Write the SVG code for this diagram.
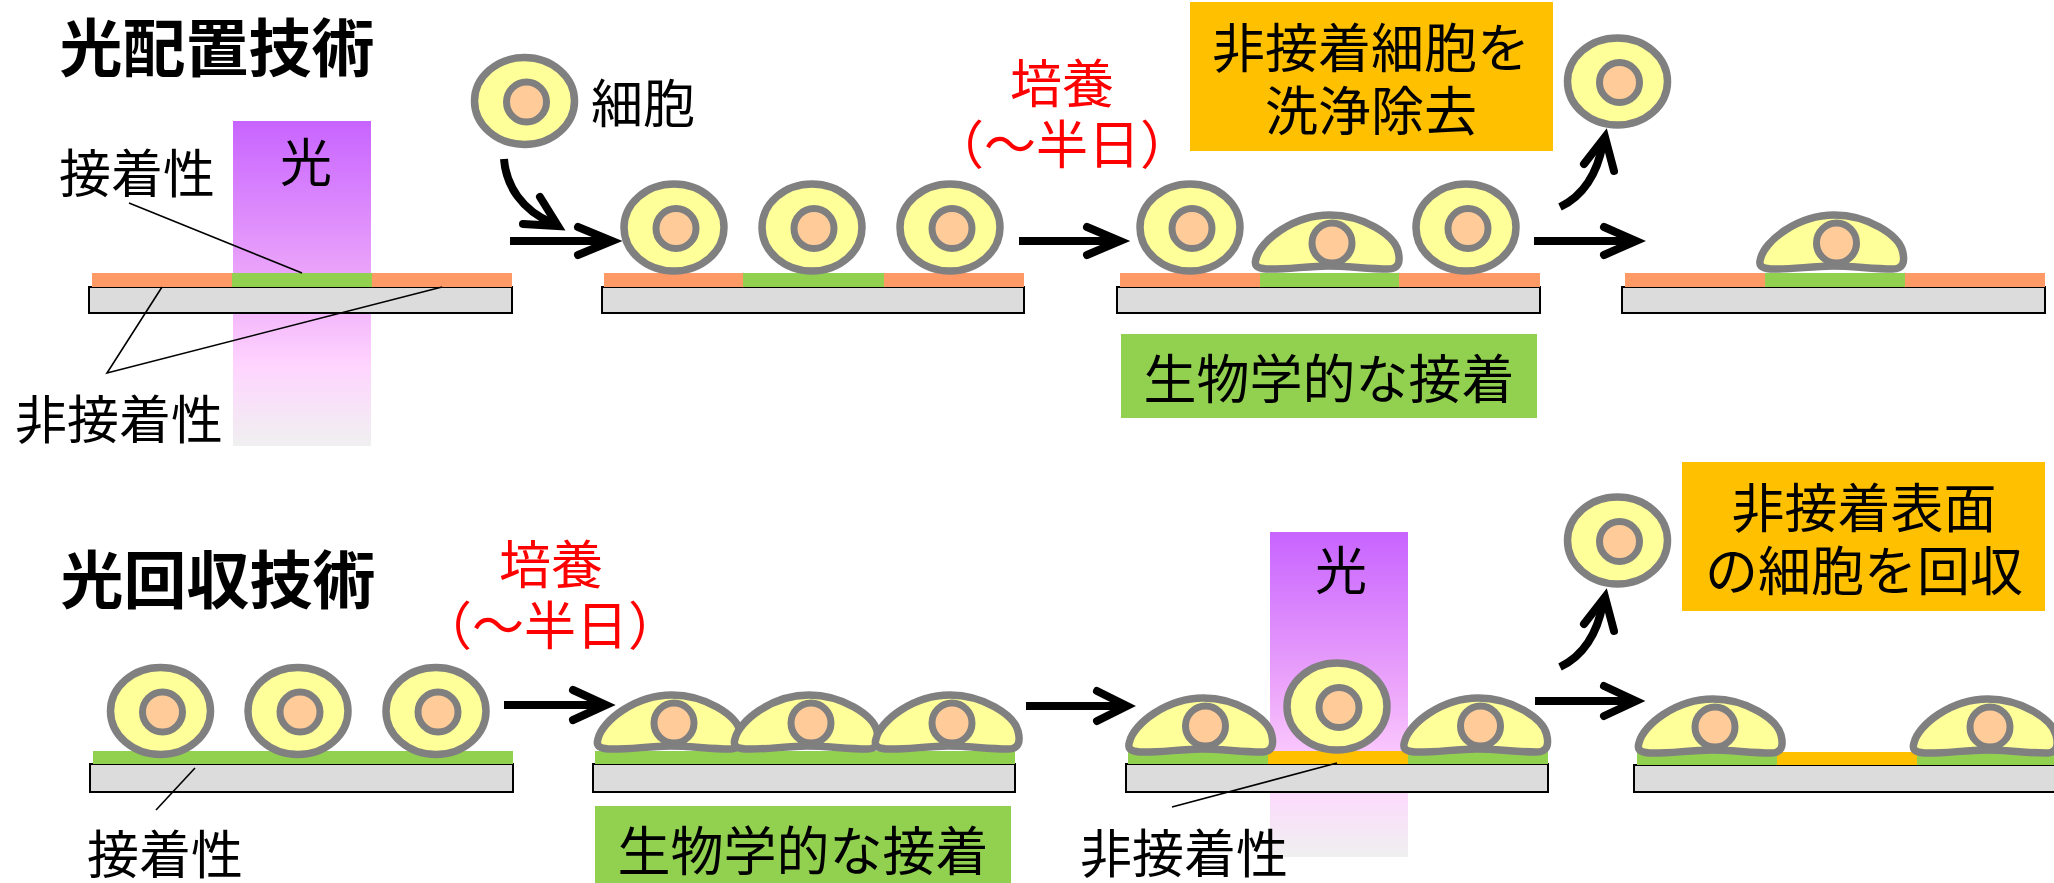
<svg xmlns="http://www.w3.org/2000/svg" xmlns:xlink="http://www.w3.org/1999/xlink" width="2054" height="883" viewBox="0 0 2054 883">
  <style>
    text { font-family: "Noto Sans CJK JP", "Noto Sans", sans-serif; text-anchor: middle; fill: #000; }
    .title { font-size: 63px; font-weight: bold; }
    .lbl { font-size: 52px; }
    .box { font-size: 53px; }
    .red { fill: #FF0000; font-size: 52px; }
    .slide { fill: #DCDCDC; stroke: #000; stroke-width: 2; }
    .rep { fill: #FF9966; }
    .adh { fill: #92D050; }
    .off { fill: #FFC000; }
    .body { fill: #FFFF99; stroke: #808080; stroke-width: 7.5; }
    .nuc { fill: #FFCC99; stroke: #7F7F7F; stroke-width: 7; }
    .shaft { fill: none; stroke: #000; stroke-width: 8; }
    .head { fill: none; stroke: #000; stroke-width: 8; stroke-linecap: round; stroke-linejoin: miter; stroke-miterlimit: 10; }
    .lead { fill: none; stroke: #000; stroke-width: 1.6; }
  </style>
  <defs>
    <linearGradient id="beam" x1="0" y1="0" x2="0" y2="1">
      <stop offset="0" stop-color="#C864FF"/>
      <stop offset="0.5" stop-color="#EDA8FA"/>
      <stop offset="0.75" stop-color="#FFD4FF"/>
      <stop offset="1" stop-color="#F0F0F0"/>
    </linearGradient>
    <!-- floating (round) cell, centred on its body -->
    <g id="roundCell">
      <ellipse class="body" cx="0" cy="0" rx="50" ry="43.5"/>
      <circle class="nuc" cx="2" cy="1" r="20"/>
    </g>
    <!-- spread (attached) cell, origin at bottom centre -->
    <g id="flatCell">
      <path class="body" d="M -72,-14 C -68,-32 -35,-58 2,-58 C 35,-58 66,-38 70,-22 C 73,-10 70,-4 60,-4 C 40,-4 20,-7 0,-7 C -20,-7 -45,-3 -62,-4 C -72,-5 -74,-8 -72,-14 Z"/>
      <circle class="nuc" cx="4" cy="-30" r="20"/>
    </g>
  </defs>

  <!-- ===== photo-patterning row ===== -->
  <g id="title-patterning"><text class="title" x="217" y="71">光配置技術</text></g>

  <g id="light-top">
    <rect x="233" y="121" width="138" height="325" fill="url(#beam)"/>
    <text class="lbl" x="306" y="182" font-size="50">光</text>
  </g>

  <g id="substrate-1">
    <rect class="slide" x="89" y="287" width="423" height="26"/>
    <rect class="rep" x="92" y="273" width="140" height="14"/>
    <rect class="adh" x="232" y="273" width="140" height="14"/>
    <rect class="rep" x="372" y="273" width="140" height="14"/>
  </g>
  <g id="label-adhesive-top"><text class="lbl" x="137" y="193">接着性</text></g>
  <g id="label-nonadhesive-top"><text class="lbl" x="119" y="439">非接着性</text></g>

  <g id="cell-icon">
    <use href="#roundCell" x="524.5" y="101"/>
    <text class="lbl" x="643" y="123">細胞</text>
  </g>

  <g id="substrate-2">
    <rect class="slide" x="602" y="287" width="422" height="26"/>
    <rect class="rep" x="604" y="273" width="139" height="14"/>
    <rect class="adh" x="743" y="273" width="141" height="14"/>
    <rect class="rep" x="884" y="273" width="140" height="14"/>
    <use href="#roundCell" x="674" y="227.5"/>
    <use href="#roundCell" x="812" y="227.5"/>
    <use href="#roundCell" x="950" y="227.5"/>
  </g>

  <g id="culture-top">
    <text class="red" x="1062" y="103">培養</text>
    <text class="red" x="1062" y="164">（～半日）</text>
  </g>

  <g id="substrate-3">
    <rect class="slide" x="1117" y="287" width="423" height="26"/>
    <rect class="rep" x="1120" y="273" width="140" height="14"/>
    <rect class="adh" x="1260" y="273" width="139" height="14"/>
    <rect class="rep" x="1399" y="273" width="141" height="14"/>
    <use href="#roundCell" x="1190" y="227.5"/>
    <use href="#flatCell" x="1328" y="273"/>
    <use href="#roundCell" x="1466" y="227.5"/>
  </g>

  <g id="box-wash">
    <rect class="off" x="1190" y="2" width="363" height="149"/>
    <text class="box" x="1371" y="68">非接着細胞を</text>
    <text class="box" x="1371" y="131">洗浄除去</text>
  </g>

  <g id="box-bio-top">
    <rect class="adh" x="1121" y="334" width="416" height="84"/>
    <text class="box" x="1329" y="399">生物学的な接着</text>
  </g>

  <g id="washed-cell-top"><use href="#roundCell" x="1617.5" y="81.5"/></g>

  <g id="substrate-4">
    <rect class="slide" x="1622" y="287" width="423" height="26"/>
    <rect class="rep" x="1625" y="273" width="140" height="14"/>
    <rect class="adh" x="1765" y="273" width="140" height="14"/>
    <rect class="rep" x="1905" y="273" width="140" height="14"/>
    <use href="#flatCell" x="1832.5" y="273"/>
  </g>

  <!-- ===== photo-recovery row ===== -->
  <g id="title-recovery"><text class="title" x="218" y="603">光回収技術</text></g>

  <g id="substrate-b1">
    <rect class="slide" x="90" y="764" width="423" height="28"/>
    <rect class="adh" x="93" y="751" width="420" height="13"/>
    <use href="#roundCell" x="160.5" y="711"/>
    <use href="#roundCell" x="298" y="711"/>
    <use href="#roundCell" x="436" y="711"/>
  </g>
  <g id="label-adhesive-bottom"><text class="lbl" x="165" y="874">接着性</text></g>

  <g id="culture-bottom">
    <text class="red" x="551" y="584">培養</text>
    <text class="red" x="550" y="645">（～半日）</text>
  </g>

  <g id="substrate-b2">
    <rect class="slide" x="593" y="764" width="422" height="28"/>
    <rect class="adh" x="595" y="751" width="420" height="13"/>
    <use href="#flatCell" x="670" y="753"/>
    <use href="#flatCell" x="807" y="753"/>
    <use href="#flatCell" x="948" y="753"/>
  </g>

  <g id="box-bio-bottom">
    <rect class="adh" x="595" y="806" width="416" height="84"/>
    <text class="box" x="803" y="871">生物学的な接着</text>
  </g>

  <g id="light-bottom">
    <rect x="1270" y="532" width="138" height="325" fill="url(#beam)"/>
    <text class="lbl" x="1341" y="590" font-size="50">光</text>
  </g>

  <g id="substrate-b3">
    <rect class="slide" x="1126" y="764" width="422" height="28"/>
    <rect class="adh" x="1128" y="751" width="140" height="13"/>
    <rect class="off" x="1268" y="751" width="140" height="13"/>
    <rect class="adh" x="1408" y="751" width="140" height="13"/>
    <use href="#flatCell" x="1201.5" y="756"/>
    <use href="#roundCell" x="1337" y="706.5"/>
    <use href="#flatCell" x="1476.5" y="756"/>
  </g>
  <g id="label-nonadhesive-bottom"><text class="lbl" x="1184" y="873">非接着性</text></g>

  <g id="recovered-cell"><use href="#roundCell" x="1617.5" y="540.5"/></g>

  <g id="box-recover">
    <rect class="off" x="1682" y="462" width="363" height="149"/>
    <text class="box" x="1864" y="528">非接着表面</text>
    <text class="box" x="1864" y="591">の細胞を回収</text>
  </g>

  <g id="substrate-b4">
    <rect class="slide" x="1634" y="765" width="423" height="27"/>
    <rect class="adh" x="1637" y="752" width="140" height="13"/>
    <rect class="off" x="1777" y="752" width="140" height="13"/>
    <rect class="adh" x="1917" y="752" width="140" height="13"/>
    <use href="#flatCell" x="1711" y="757"/>
    <use href="#flatCell" x="1986" y="757"/>
  </g>

  <!-- ===== connectors: process arrows and leader lines ===== -->
  <g id="connectors">
    <!-- leader lines -->
    <line class="lead" x1="129" y1="203" x2="302" y2="273"/>
    <polyline class="lead" points="162,287 107,373 442,287"/>
    <line class="lead" x1="195" y1="768" x2="156" y2="810"/>
    <line class="lead" x1="1337" y1="763" x2="1172" y2="807"/>

    <!-- top row -->
    <path class="shaft" d="M504,159 C506,186 522,210 552,223"/>
    <polyline class="head" points="523,224 558,226 540,197"/>
    <line class="shaft" x1="510" y1="241" x2="608" y2="241"/>
    <polyline class="head" points="578,227 612,241 578,255"/>
    <line class="shaft" x1="1019" y1="241" x2="1116" y2="241"/>
    <polyline class="head" points="1087,227 1120,241 1087,255"/>
    <line class="shaft" x1="1534" y1="241" x2="1632" y2="241"/>
    <polyline class="head" points="1604,227 1636,241 1604,255"/>
    <path class="shaft" d="M1560,207 C1585,195 1598,170 1603,143"/>
    <polyline class="head" points="1584,164 1605,137 1614,171"/>

    <!-- bottom row -->
    <line class="shaft" x1="504" y1="705" x2="602" y2="705"/>
    <polyline class="head" points="573,690 606,705 573,720"/>
    <line class="shaft" x1="1026" y1="706" x2="1123" y2="706"/>
    <polyline class="head" points="1097,691 1127,706 1097,721"/>
    <line class="shaft" x1="1535" y1="701" x2="1632" y2="701"/>
    <polyline class="head" points="1604,686 1636,701 1604,716"/>
    <path class="shaft" d="M1560,667 C1585,655 1598,630 1603,603"/>
    <polyline class="head" points="1584,624 1605,597 1614,631"/>
  </g>
</svg>
